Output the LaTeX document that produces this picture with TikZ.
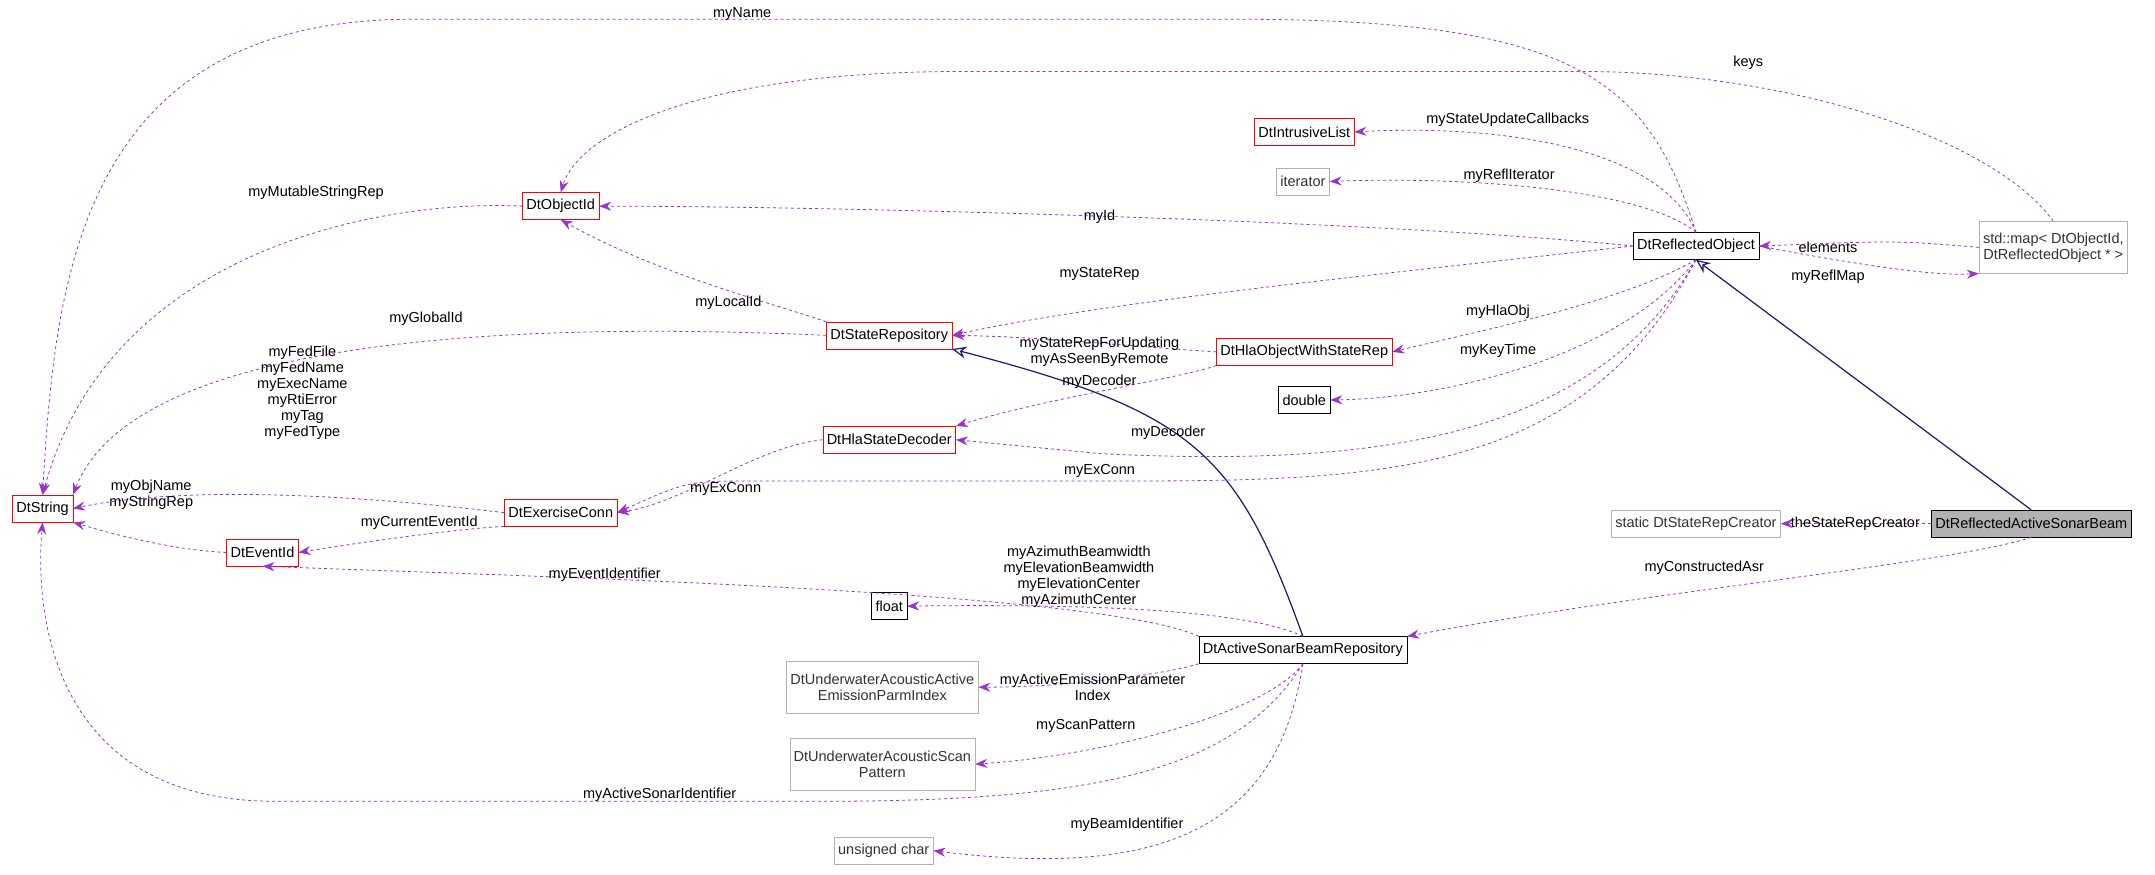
\documentclass[tikz,border=0pt]{standalone}
\usepackage{fontspec}
\setmainfont{Liberation Sans}
\usetikzlibrary{arrows.meta}
\definecolor{dep}{HTML}{9A32CD}
\definecolor{inh}{HTML}{191970}
\begin{document}
\begin{tikzpicture}[x=1.3744pt,y=-1.3744pt,
  every node/.style={font=\fontsize{14.5}{16}\selectfont},
  box/.style={draw,rectangle,inner sep=4pt,minimum height=27pt,align=center,fill=white},
  red/.style={box,draw=red},
  gr/.style={box,draw=gray!60,text=black!80},
  blk/.style={box,draw=black},
  d/.style={draw=dep,dashed,thick,-{Stealth[length=12pt,width=9pt]}},
  inher/.style={draw=inh,very thick,-{Stealth[length=14pt,width=12pt,open]}},
  lab/.style={font=\fontsize{14.5}{16}\selectfont,align=center,inner sep=1pt}]
\useasboundingbox (0,0) rectangle (1568,636);
\node[box,fill=gray!60] (sb) at (1478,381) {DtReflectedActiveSonarBeam};
\node[gr] (src) at (1234,381) {static DtStateRepCreator};
\node[blk] (ro) at (1234,179) {DtReflectedObject};
\node[gr,minimum height=52pt] (map) at (1494,180) {std::map< DtObjectId,\\DtReflectedObject * >};
\node[red] (il) at (949,96) {DtIntrusiveList};
\node[gr] (it) at (948,132) {iterator};
\node[red] (oid) at (408,150) {DtObjectId};
\node[red] (sr) at (647,244) {DtStateRepository};
\node[red] (ho) at (949,256) {DtHlaObjectWithStateRep};
\node[blk] (dbl) at (949,291) {double};
\node[red] (hd) at (647,320) {DtHlaStateDecoder};
\node[red] (str) at (31,370) {DtString};
\node[red] (ec) at (408,373) {DtExerciseConn};
\node[red] (eid) at (191,402) {DtEventId};
\node[blk] (fl) at (647,441) {float};
\node[blk] (rep) at (948,473) {DtActiveSonarBeamRepository};
\node[gr,minimum height=52pt] (em) at (642,500) {DtUnderwaterAcousticActive\\EmissionParmIndex};
\node[gr,minimum height=52pt] (sp) at (642,556) {DtUnderwaterAcousticScan\\Pattern};
\node[gr] (uc) at (643,619) {unsigned char};

\draw[inher] (sb.north) -- (ro.south);
\draw[inher] (rep.north) .. controls (900,330) and (870,300) .. (sr.south east);
\draw[d] (sb.west) -- (src.east);
\draw[d] (sb.south) .. controls (1420,410) and (1200,430) .. (rep.north east);
\draw[d] (ro.north) .. controls (1200,60) and (1150,14) .. (900,14) -- (300,14) .. controls (60,14) and (40,200) .. (str.north);
\draw[d] (map.north) .. controls (1450,100) and (1300,52) .. (1150,52) -- (700,52) .. controls (500,52) and (420,100) .. (oid.north);
\draw[d] (ro.north) .. controls (1210,110) and (1100,90) .. (il.east);
\draw[d] (ro.north) .. controls (1200,140) and (1080,128) .. (it.east);
\draw[d] (ro.west) .. controls (1000,160) and (600,150) .. (oid.east);
\draw[d] (ro.west) .. controls (1000,200) and (800,220) .. (sr.east);
\draw[d] (ro.south) .. controls (1180,220) and (1080,240) .. (ho.east);
\draw[d] (ro.south) .. controls (1180,260) and (1050,290) .. (dbl.east);
\draw[d] (ro.south) .. controls (1160,320) and (1000,340) .. (800,330) .. controls (750,325) .. (hd.east);
\draw[d] (ro.south) .. controls (1150,350) and (1000,350) .. (800,350) -- (550,350) .. controls (500,350) .. (ec.east);
\draw[d] (map.west) .. controls (1380,175) .. (ro.east);
\draw[d] (ro.east) .. controls (1390,200) and (1420,200) .. (map.south west);
\draw[d] (oid.west) .. controls (280,145) and (80,180) .. (str.north);
\draw[d] (sr.north west) .. controls (560,220) and (480,200) .. (oid.south);
\draw[d] (sr.west) .. controls (400,235) and (100,240) .. (str.north east);
\draw[d] (ho.west) .. controls (820,252) and (760,245) .. (sr.east);
\draw[d] (ho.south west) .. controls (860,275) and (760,290) .. (hd.north east);
\draw[d] (ec.west) .. controls (300,365) and (150,350) .. (str.east);
\draw[d] (hd.west) .. controls (550,325) and (500,365) .. (ec.east);
\draw[d] (ec.south west) .. controls (330,385) and (260,395) .. (eid.east);
\draw[d] (eid.west) .. controls (120,400) and (70,385) .. (str.south east);
\draw[d] (rep.north west) .. controls (800,430) and (400,420) .. (eid.south);
\draw[d] (rep.north) .. controls (900,440) and (750,440) .. (fl.east);
\draw[d] (rep.south west) .. controls (850,490) and (780,500) .. (em.east);
\draw[d] (rep.south) .. controls (920,520) and (800,550) .. (sp.east);
\draw[d] (rep.south) .. controls (900,560) and (800,583) .. (600,583) -- (200,583) .. controls (40,583) and (25,450) .. (str.south);
\draw[d] (rep.south) .. controls (930,600) and (850,640) .. (uc.east);

\node[lab] at (540,10) {myName};
\node[lab] at (1272,46) {keys};
\node[lab] at (1097,87) {myStateUpdateCallbacks};
\node[lab] at (1098,128) {myReflIterator};
\node[lab] at (800,158) {myId};
\node[lab] at (800,199) {myStateRep};
\node[lab] at (1090,227) {myHlaObj};
\node[lab] at (1090,255) {myKeyTime};
\node[lab] at (850,315) {myDecoder};
\node[lab] at (800,343) {myExConn};
\node[lab] at (1330,180) {elements};
\node[lab] at (1330,201) {myReflMap};
\node[lab] at (1350,381) {theStateRepCreator};
\node[lab] at (1240,413) {myConstructedAsr};
\node[lab] at (230,140) {myMutableStringRep};
\node[lab] at (530,220) {myLocalId};
\node[lab] at (310,232) {myGlobalId};
\node[lab] at (800,256) {myStateRepForUpdating\\myAsSeenByRemote};
\node[lab] at (800,278) {myDecoder};
\node[lab] at (220,286) {myFedFile\\myFedName\\myExecName\\myRtiError\\myTag\\myFedType};
\node[lab] at (528,356) {myExConn};
\node[lab] at (305,380) {myCurrentEventId};
\node[lab] at (110,360) {myObjName\\myStringRep};
\node[lab] at (440,418) {myEventIdentifier};
\node[lab] at (785,420) {myAzimuthBeamwidth\\myElevationBeamwidth\\myElevationCenter\\myAzimuthCenter};
\node[lab] at (795,500) {myActiveEmissionParameter\\Index};
\node[lab] at (790,528) {myScanPattern};
\node[lab] at (480,578) {myActiveSonarIdentifier};
\node[lab] at (820,600) {myBeamIdentifier};
\end{tikzpicture}
\end{document}
